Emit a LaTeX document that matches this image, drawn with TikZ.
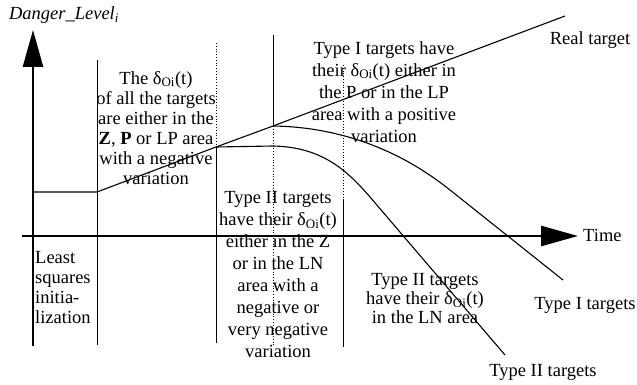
\documentclass[tikz,border=0pt]{standalone}
\usepackage{fontspec}
\setmainfont{Liberation Serif}
\usetikzlibrary{arrows.meta}
\newcommand{\dOi}{δ\textsubscript{Oi}(t)}

\begin{document}
\begin{tikzpicture}[
  x=1pt, y=-1pt,
  every node/.style={font=\fontsize{18.5}{20}\selectfont, inner sep=0pt},
  note/.style={align=center},
  axisline/.style={line width=2.6pt},
  curve/.style={line width=1.1pt},
  sepline/.style={line width=0.8pt},
  sepdots/.style={line width=0.8pt, dotted},
  >={Triangle[length=37pt, width=20pt]}
]
\useasboundingbox (0,0) rectangle (637,385);

% axes
\coordinate (yb) at (33,346);
\coordinate (yt) at (33,30);
\coordinate (xl) at (22,236);
\coordinate (xr) at (578,236);
\draw[axisline, ->] (yb) -- (yt);
\draw[axisline, ->] (xl) -- (xr);
\node (dl) at (64,15) {\textit{Danger\_Level}\textsubscript{\textit{i}}};
\node[anchor=west] (time) at (583,235) {Time};

% curve points
\coordinate (a0) at (33,192);
\coordinate (a1) at (97,192);
\coordinate (a2) at (216,147);
\coordinate (a3) at (273,126);
\coordinate (a4) at (565,16);
\coordinate (b1) at (273,146);
\coordinate (b2) at (370,197);
\coordinate (b3) at (505,355);
\coordinate (c1) at (450,190);
\coordinate (c2) at (563,280);

% phase separators
\draw[sepline] (97,60) -- (97,345);
\draw[sepdots] (216,43) -- (a2);
\draw[sepline] (a2) -- (216,343);
\draw[sepline] (273,35) -- (a3);
\draw[sepdots] (a3) -- (273,345);
\draw[sepdots] (343,65) -- (343,200);
\draw[sepline] (343,200) -- (343,347);

% real target and the two target types
\draw[curve] (a0) -- (a1) -- (a2) -- (a3) -- (a4);
\draw[curve] (a2) -- (b1) .. controls (320,147) and (345,168) .. (b2) -- (b3);
\draw[curve] (a3) .. controls (340,127) and (400,150) .. (c1) -- (c2);

\node (real) at (590,40) {Real target};
\node (tI) at (585,305) {Type I targets};
\node (tII) at (543,372) {Type II targets};

% phase texts
\node[align=left, anchor=west, font=\fontsize{18.5}{20}\selectfont]
  (init) at (35,288) {Least\\squares\\initia-\\lization};
\node[note, font=\fontsize{18.5}{20}\selectfont] (ph1) at (156,128)
  {The \dOi\\of all the targets\\are either in the\\\textbf{Z}, \textbf{P} or LP area\\with a negative\\variation};
\node[note, font=\fontsize{18.5}{22}\selectfont] (ph2) at (384,92)
  {Type I targets have\\their \dOi{} either in\\the P or in the LP\\area with a positive\\variation};
\node[note, font=\fontsize{18.5}{22}\selectfont] (ph3) at (278,274.5)
  {Type II targets\\have their \dOi\\either in the Z\\or in the LN\\area with a\\negative or\\very negative\\variation};
\node[note, font=\fontsize{18.5}{19}\selectfont] (ph4) at (425,299)
  {Type II targets\\have their \dOi\\in the LN area};

\end{tikzpicture}
\end{document}
